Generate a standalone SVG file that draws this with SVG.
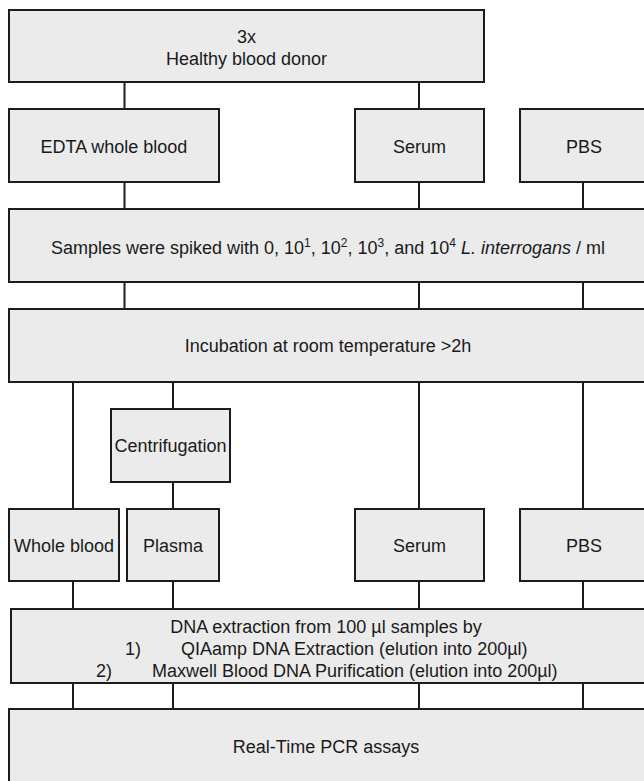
<svg xmlns="http://www.w3.org/2000/svg" width="644" height="781" viewBox="0 0 644 781">
<style>
.box{fill:#ebebeb;stroke:#1c1c1c;stroke-width:2}
.c{stroke:#1c1c1c;stroke-width:2;fill:none}
text{font-family:"Liberation Sans",Arial,sans-serif;font-size:18px;fill:#1a1a1a}
.m{text-anchor:middle}
</style>
<rect width="644" height="781" fill="#ffffff"/>
<g id="connectors">
<path class="c" d="M124.5,82V109M419,82V109"/>
<path class="c" d="M124.5,182V209M419,182V209M583,182V209"/>
<path class="c" d="M124.5,282V309M419,282V309M583,282V309"/>
<path class="c" d="M73,382V509M173,382V409M173,482V509M419,382V509M583,382V509"/>
<path class="c" d="M73,581V609M173,581V609M419,581V609M583,581V609"/>
<path class="c" d="M73,683V709M173,683V709M419,683V709M583,683V709"/>
</g>
<g id="donor"><rect class="box" x="9" y="10" width="475" height="72"/><text class="m" x="246.5" y="43">3x</text><text class="m" x="246.5" y="65">Healthy blood donor</text></g>
<g id="edta"><rect class="box" x="9" y="109" width="210" height="73"/><text class="m" x="114" y="153">EDTA whole blood</text></g>
<g id="serum1"><rect class="box" x="355" y="109" width="129" height="73"/><text class="m" x="419.5" y="153">Serum</text></g>
<g id="pbs1"><rect class="box" x="520" y="109" width="140" height="73"/><text class="m" x="584" y="153">PBS</text></g>
<g id="spiked"><rect class="box" x="9" y="209" width="660" height="73"/><text class="m" x="328" y="254">Samples were spiked with 0, 10<tspan font-size="12" dy="-7">1</tspan><tspan dy="7">, 10</tspan><tspan font-size="12" dy="-7">2</tspan><tspan dy="7">, 10</tspan><tspan font-size="12" dy="-7">3</tspan><tspan dy="7">, and 10</tspan><tspan font-size="12" dy="-7">4</tspan><tspan dy="7"> </tspan><tspan font-style="italic">L. interrogans</tspan> / ml</text></g>
<g id="incubation"><rect class="box" x="9" y="309" width="660" height="73"/><text class="m" x="328" y="352">Incubation at room temperature &gt;2h</text></g>
<g id="centrifugation"><rect class="box" x="111" y="409" width="119" height="73"/><text class="m" x="170.5" y="452">Centrifugation</text></g>
<g id="wholeblood"><rect class="box" x="9" y="509" width="110" height="72"/><text class="m" x="64" y="552">Whole blood</text></g>
<g id="plasma"><rect class="box" x="127" y="509" width="92" height="72"/><text class="m" x="173" y="552">Plasma</text></g>
<g id="serum2"><rect class="box" x="355" y="509" width="129" height="72"/><text class="m" x="419.5" y="552">Serum</text></g>
<g id="pbs2"><rect class="box" x="520" y="509" width="140" height="72"/><text class="m" x="584" y="552">PBS</text></g>
<g id="extraction"><rect class="box" x="11" y="609" width="660" height="74"/><text class="m" x="326" y="633">DNA extraction from 100 µl samples by</text><text x="125" y="655">1)</text><text x="181" y="655">QIAamp DNA Extraction (elution into 200µl)</text><text x="96" y="677">2)</text><text x="152" y="677">Maxwell Blood DNA Purification (elution into 200µl)</text></g>
<g id="pcr"><rect class="box" x="9" y="709" width="660" height="100"/><text class="m" x="326" y="753">Real-Time PCR assays</text></g>
</svg>
